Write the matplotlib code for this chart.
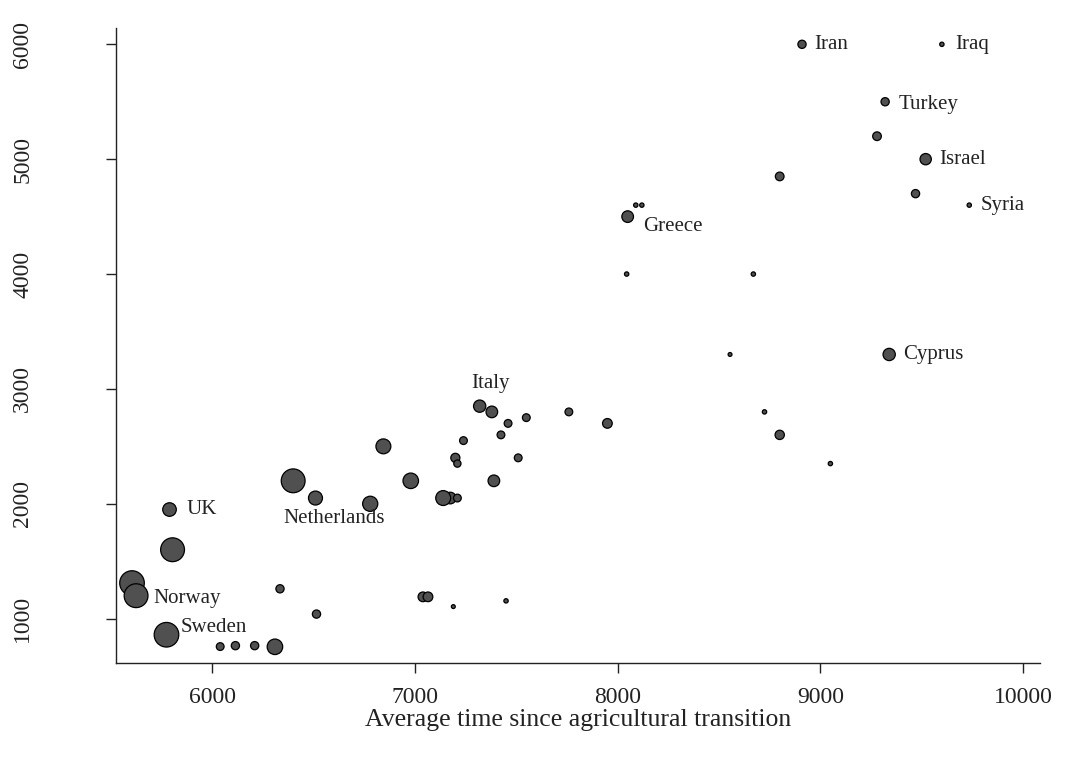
import matplotlib
matplotlib.use("Agg")
import matplotlib.pyplot as plt

plt.rcParams['font.family'] = ['Liberation Serif', 'DejaVu Serif']

# average time since agricultural transition, years
avg_time = [8910, 9600, 9320, 9280, 9520, 8800, 9470, 9735, 8050, 8090,
            8120, 8045, 8670, 8555, 9340, 8725, 8800, 9050, 7760, 7950,
            7320, 7380, 7460, 7550, 7425, 7240, 6845, 7200, 7210, 7510,
            6400, 6980, 7390, 6510, 6780, 7175, 7140, 7210, 5790, 5805,
            5605, 5625, 5775, 6335, 6515, 7040, 7065, 7190, 7450, 6040,
            6115, 6210, 6310]
# local time since transition, years
local_time = [6000, 6000, 5500, 5200, 5000, 4850, 4700, 4600, 4500, 4600,
              4600, 4000, 4000, 3300, 3300, 2800, 2600, 2350, 2800, 2700,
              2850, 2800, 2700, 2750, 2600, 2550, 2500, 2400, 2350, 2400,
              2200, 2200, 2200, 2050, 2000, 2050, 2050, 2050, 1950, 1600,
              1310, 1200, 860, 1260, 1040, 1190, 1190, 1105, 1155, 757,
              765, 765, 755]
# analytic weight of each observation
weight = [18, 5, 18, 20, 34, 20, 18, 5, 36, 5,
          5, 5, 5, 4, 40, 5, 23, 5, 16, 25,
          40, 36, 16, 16, 16, 16, 59, 22, 14, 16,
          151, 64, 36, 52, 61, 36, 59, 16, 49, 151,
          161, 151, 161, 18, 18, 25, 25, 4, 5, 16,
          18, 18, 64]
country = ['Iran', 'Iraq', 'Turkey', '', 'Israel', '', '', 'Syria', 'Greece', '',
           '', '', '', '', 'Cyprus', '', '', '', '', '',
           'Italy', '', '', '', '', '', '', '', '', '',
           'Netherlands', '', '', '', '', '', '', '', 'UK', '',
           '', 'Norway', 'Sweden', '', '', '', '', '', '', '',
           '', '', '']

# label placement (offset in points, horizontal alignment)
label_pos = {
    'Iran': ((8.5, 0), 'left'),
    'Iraq': ((9.5, 0), 'left'),
    'Turkey': ((10, -2), 'left'),
    'Israel': ((10, 0), 'left'),
    'Syria': ((8, 0), 'left'),
    'Greece': ((11, -7), 'left'),
    'Cyprus': ((10, 0), 'left'),
    'Italy': ((8, 16), 'center'),
    'Netherlands': ((-7, -27), 'left'),
    'UK': ((12, 0), 'left'),
    'Norway': ((12.5, -2), 'left'),
    'Sweden': ((10, 5), 'left'),
}

fig = plt.figure(figsize=(10.67, 7.69), dpi=100)
ax = fig.add_axes([116 / 1067, 1 - 663 / 769, 924 / 1067, 635 / 769])

ax.scatter(avg_time, local_time, s=[w * 1.95 for w in weight],
           facecolor='#505050', edgecolor='black', linewidth=0.9, zorder=3)

for xi, yi, name in zip(avg_time, local_time, country):
    if not name:
        continue
    off, ha = label_pos[name]
    ax.annotate(name, (xi, yi), xytext=off, textcoords='offset points',
                ha=ha, va='center', fontsize=15, color='#222222')

ax.set_xlim(5526, 10084)
ax.set_ylim(614, 6142)
ax.set_xticks([6000, 7000, 8000, 9000, 10000])
ax.set_yticks([1000, 2000, 3000, 4000, 5000, 6000])
ax.set_yticklabels(['1000', '2000', '3000', '4000', '5000', '6000'],
                   rotation=90, va='center')

for side in ['top', 'right']:
    ax.spines[side].set_visible(False)
for side in ['left', 'bottom']:
    ax.spines[side].set_linewidth(1.0)
    ax.spines[side].set_color('#222222')

ax.tick_params(axis='both', direction='out', length=7.5, width=1.0,
               color='#222222', labelsize=17, labelcolor='#222222')
ax.tick_params(axis='x', pad=9.5)
ax.tick_params(axis='y', pad=52)

ax.set_xlabel('Average time since agricultural transition', fontsize=18.5,
              color='#222222', labelpad=1)

fig.savefig('out.png', dpi=100)
